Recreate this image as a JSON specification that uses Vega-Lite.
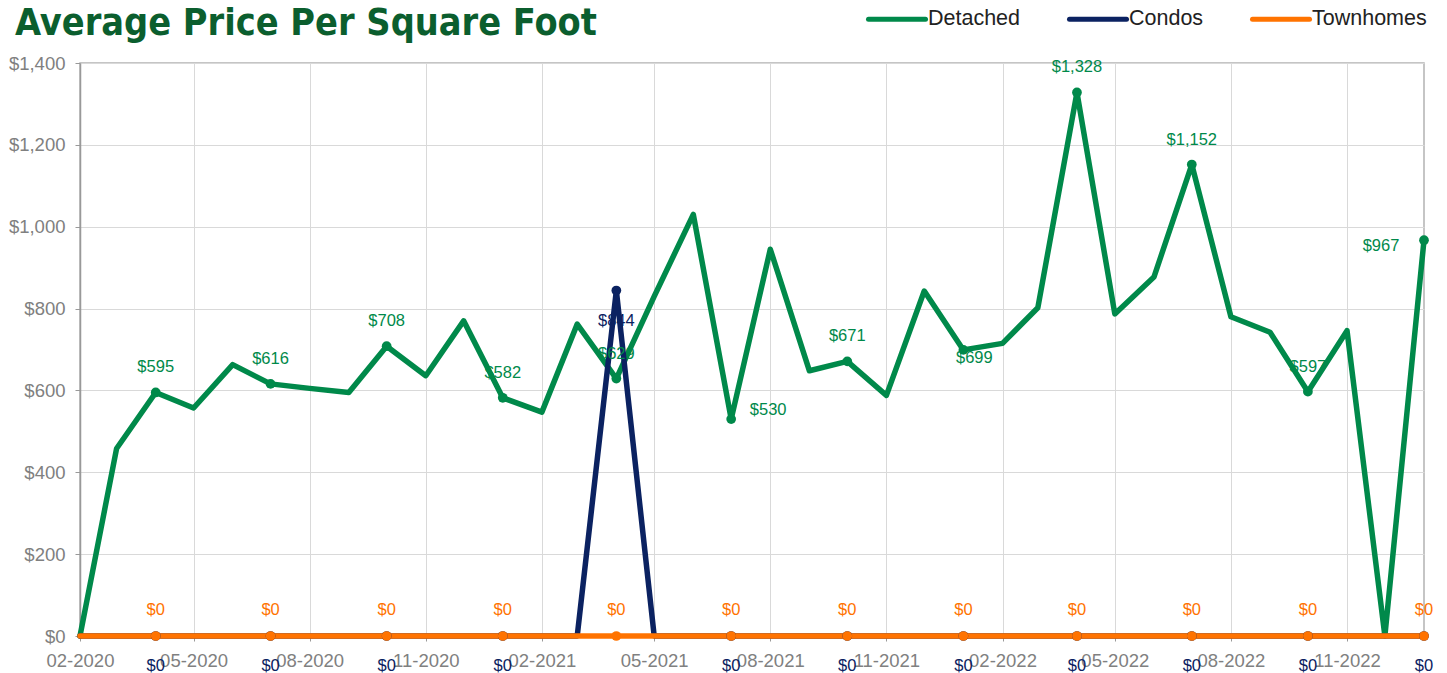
{
  "$schema": "https://vega.github.io/schema/vega-lite/v6.json",
  "width": 1344,
  "height": 573,
  "autosize": {"type": "none"},
  "padding": {"left": 80, "top": 63, "right": 23, "bottom": 37},
  "background": "white",
  "title": {
    "text": "Average Price Per Square Foot",
    "anchor": "start",
    "frame": "group",
    "dx": -65,
    "offset": 0,
    "dy": 84,
    "baseline": "alphabetic",
    "font": "DejaVu Sans Condensed, Liberation Sans, sans-serif",
    "fontSize": 37.5,
    "fontWeight": "bold",
    "color": "#0B5E2E"
  },
  "config": {
    "font": "Liberation Sans",
    "view": {"stroke": "#b3b3b3", "strokeWidth": 1.5},
    "axis": {
      "title": null,
      "gridColor": "#d9d9d9",
      "gridWidth": 1,
      "labelColor": "#808080",
      "labelFont": "Liberation Sans",
      "labelFontSize": 18.5,
      "tickColor": "#999999",
      "tickSize": 5,
      "domainColor": "#999999",
      "domainWidth": 1.5
    }
  },
  "data": {
    "values": [
      {"d": "2020-02-01", "Detached": 0, "Condos": 0, "Townhomes": 0},
      {"d": "2020-03-01", "Detached": 458, "Condos": 0, "Townhomes": 0},
      {"d": "2020-04-01", "Detached": 595, "Condos": 0, "Townhomes": 0},
      {"d": "2020-05-01", "Detached": 557, "Condos": 0, "Townhomes": 0},
      {"d": "2020-06-01", "Detached": 663, "Condos": 0, "Townhomes": 0},
      {"d": "2020-07-01", "Detached": 616, "Condos": 0, "Townhomes": 0},
      {"d": "2020-08-01", "Detached": 605, "Condos": 0, "Townhomes": 0},
      {"d": "2020-09-01", "Detached": 595, "Condos": 0, "Townhomes": 0},
      {"d": "2020-10-01", "Detached": 708, "Condos": 0, "Townhomes": 0},
      {"d": "2020-11-01", "Detached": 636, "Condos": 0, "Townhomes": 0},
      {"d": "2020-12-01", "Detached": 770, "Condos": 0, "Townhomes": 0},
      {"d": "2021-01-01", "Detached": 582, "Condos": 0, "Townhomes": 0},
      {"d": "2021-02-01", "Detached": 547, "Condos": 0, "Townhomes": 0},
      {"d": "2021-03-01", "Detached": 762, "Condos": 0, "Townhomes": 0},
      {"d": "2021-04-01", "Detached": 629, "Condos": 844, "Townhomes": 0},
      {"d": "2021-05-01", "Detached": 830, "Condos": 0, "Townhomes": 0},
      {"d": "2021-06-01", "Detached": 1030, "Condos": 0, "Townhomes": 0},
      {"d": "2021-07-01", "Detached": 530, "Condos": 0, "Townhomes": 0},
      {"d": "2021-08-01", "Detached": 945, "Condos": 0, "Townhomes": 0},
      {"d": "2021-09-01", "Detached": 648, "Condos": 0, "Townhomes": 0},
      {"d": "2021-10-01", "Detached": 671, "Condos": 0, "Townhomes": 0},
      {"d": "2021-11-01", "Detached": 588, "Condos": 0, "Townhomes": 0},
      {"d": "2021-12-01", "Detached": 843, "Condos": 0, "Townhomes": 0},
      {"d": "2022-01-01", "Detached": 699, "Condos": 0, "Townhomes": 0},
      {"d": "2022-02-01", "Detached": 715, "Condos": 0, "Townhomes": 0},
      {"d": "2022-03-01", "Detached": 802, "Condos": 0, "Townhomes": 0},
      {"d": "2022-04-01", "Detached": 1328, "Condos": 0, "Townhomes": 0},
      {"d": "2022-05-01", "Detached": 787, "Condos": 0, "Townhomes": 0},
      {"d": "2022-06-01", "Detached": 877, "Condos": 0, "Townhomes": 0},
      {"d": "2022-07-01", "Detached": 1152, "Condos": 0, "Townhomes": 0},
      {"d": "2022-08-01", "Detached": 780, "Condos": 0, "Townhomes": 0},
      {"d": "2022-09-01", "Detached": 742, "Condos": 0, "Townhomes": 0},
      {"d": "2022-10-01", "Detached": 597, "Condos": 0, "Townhomes": 0},
      {"d": "2022-11-01", "Detached": 746, "Condos": 0, "Townhomes": 0},
      {"d": "2022-12-01", "Detached": 0, "Condos": 0, "Townhomes": 0},
      {"d": "2023-01-01", "Detached": 967, "Condos": 0, "Townhomes": 0}
    ]
  },
  "transform": [
    {"fold": ["Detached", "Condos", "Townhomes"], "as": ["s", "v"]},
    {"calculate": "indexof([0,3,6,9], utcmonth(toDate(datum.d))) >= 0", "as": "lab"}
  ],
  "encoding": {
    "x": {
      "field": "d",
      "type": "temporal",
      "scale": {
        "type": "utc",
        "nice": false,
        "domain": [
          {"year": 2020, "month": 2, "date": 1, "utc": true},
          {"year": 2023, "month": 1, "date": 1, "utc": true}
        ]
      },
      "axis": {
        "format": "%m-%Y",
        "grid": true,
        "labelFlush": false,
        "labelOverlap": false,
        "labelPadding": 10,
        "values": [
          {"year": 2020, "month": 2, "date": 1, "utc": true},
          {"year": 2020, "month": 5, "date": 1, "utc": true},
          {"year": 2020, "month": 8, "date": 1, "utc": true},
          {"year": 2020, "month": 11, "date": 1, "utc": true},
          {"year": 2021, "month": 2, "date": 1, "utc": true},
          {"year": 2021, "month": 5, "date": 1, "utc": true},
          {"year": 2021, "month": 8, "date": 1, "utc": true},
          {"year": 2021, "month": 11, "date": 1, "utc": true},
          {"year": 2022, "month": 2, "date": 1, "utc": true},
          {"year": 2022, "month": 5, "date": 1, "utc": true},
          {"year": 2022, "month": 8, "date": 1, "utc": true},
          {"year": 2022, "month": 11, "date": 1, "utc": true}
        ]
      }
    },
    "y": {
      "field": "v",
      "type": "quantitative",
      "scale": {"domain": [0, 1400], "nice": false},
      "axis": {
        "format": "$,.0f",
        "values": [0, 200, 400, 600, 800, 1000, 1200, 1400],
        "grid": true,
        "labelPadding": 10
      }
    },
    "color": {
      "field": "s",
      "type": "nominal",
      "scale": {
        "domain": ["Detached", "Condos", "Townhomes"],
        "range": ["#00894A", "#0B2261", "#FF7300"]
      },
      "legend": {
        "title": null,
        "orient": "none",
        "direction": "horizontal",
        "legendX": 786,
        "legendY": -75,
        "symbolType": "stroke",
        "symbolSize": 3249,
        "symbolStrokeWidth": 5,
        "labelFont": "Liberation Sans",
        "labelFontSize": 21.5,
        "labelColor": "#222222",
        "labelOffset": 0,
        "columnPadding": 38,
        "encode": {"symbols": {"update": {"strokeCap": {"value": "round"}}}}
      }
    }
  },
  "layer": [
    {
      "transform": [{"filter": "datum.s == 'Detached'"}],
      "mark": {"type": "line", "strokeWidth": 5.5, "strokeJoin": "round", "strokeCap": "round"}
    },
    {
      "transform": [{"filter": "datum.s == 'Condos'"}],
      "mark": {"type": "line", "strokeWidth": 5.5, "strokeJoin": "round", "strokeCap": "round"}
    },
    {
      "transform": [{"filter": "datum.s == 'Townhomes'"}],
      "mark": {"type": "line", "strokeWidth": 5.5, "strokeJoin": "round", "strokeCap": "round"}
    },
    {
      "transform": [{"filter": "datum.lab"}],
      "mark": {"type": "point", "filled": true, "size": 95, "opacity": 1}
    },
    {
      "transform": [{"filter": "datum.lab && datum.s == 'Detached' && time(toDate(datum.d)) != utc(2021,6,1) && time(toDate(datum.d)) != utc(2022,0,1) && time(toDate(datum.d)) != utc(2023,0,1)"}],
      "mark": {"type": "text", "dy": -25, "fontSize": 16.5},
      "encoding": {"text": {"field": "v", "type": "quantitative", "format": "$,.0f"}, "color": {"value": "#00894A"}}
    },
    {
      "transform": [{"filter": "datum.s == 'Detached' && time(toDate(datum.d)) == utc(2021,6,1)"}],
      "mark": {"type": "text", "dx": 37, "dy": -9, "fontSize": 16.5},
      "encoding": {"text": {"field": "v", "type": "quantitative", "format": "$,.0f"}, "color": {"value": "#00894A"}}
    },
    {
      "transform": [{"filter": "datum.s == 'Detached' && time(toDate(datum.d)) == utc(2022,0,1)"}],
      "mark": {"type": "text", "dx": 11, "dy": 8, "fontSize": 16.5},
      "encoding": {"text": {"field": "v", "type": "quantitative", "format": "$,.0f"}, "color": {"value": "#00894A"}}
    },
    {
      "transform": [{"filter": "datum.s == 'Detached' && time(toDate(datum.d)) == utc(2023,0,1)"}],
      "mark": {"type": "text", "dx": -43, "dy": 6, "fontSize": 16.5},
      "encoding": {"text": {"field": "v", "type": "quantitative", "format": "$,.0f"}, "color": {"value": "#00894A"}}
    },
    {
      "transform": [{"filter": "datum.lab && datum.s == 'Condos'"}],
      "mark": {"type": "text", "dy": 30, "fontSize": 16.5},
      "encoding": {"text": {"field": "v", "type": "quantitative", "format": "$,.0f"}, "color": {"value": "#0B2261"}}
    },
    {
      "transform": [{"filter": "datum.lab && datum.s == 'Townhomes'"}],
      "mark": {"type": "text", "dy": -26, "fontSize": 16.5},
      "encoding": {"text": {"field": "v", "type": "quantitative", "format": "$,.0f"}, "color": {"value": "#FF7300"}}
    }
  ]
}
